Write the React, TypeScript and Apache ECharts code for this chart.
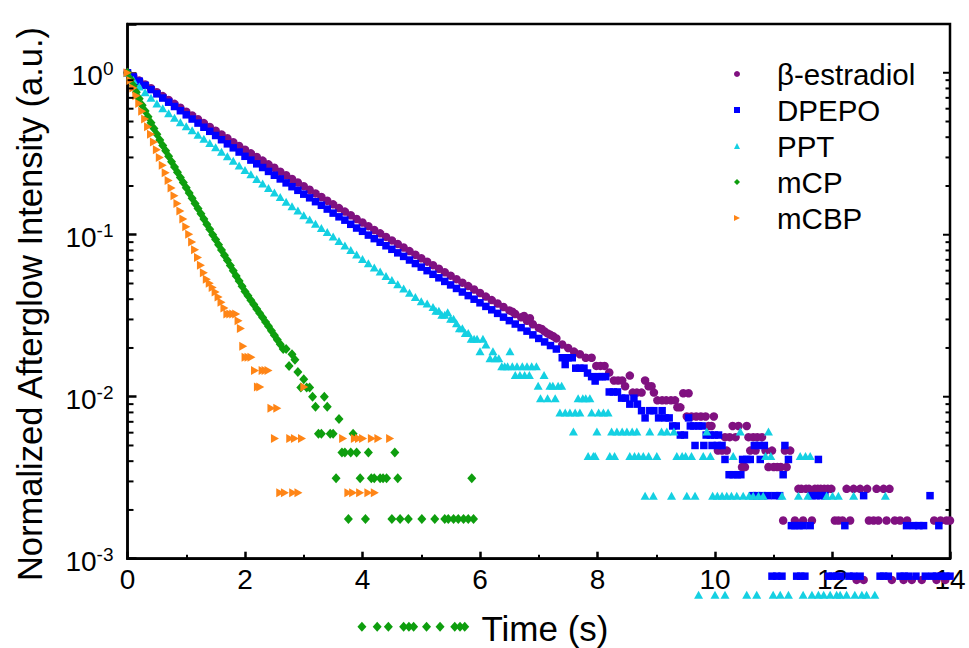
import React, { useEffect, useRef } from "react";
import * as echarts from "echarts";

const FONT = '"Liberation Sans", Arial, Helvetica, sans-serif';

const seriesNames = ["β-estradiol", "DPEPO", "PPT", "mCP", "mCBP"];
const seriesColors = ["#801180", "#0000ff", "#14d0e2", "#0e9e0e", "#ff8516"];

// β-estradiol: time (s), normalized intensity
const estradiol: [number, number][] = [
  [0, 1], [0.1, 0.946], [0.2, 0.895], [0.3, 0.847], [0.4, 0.802], [0.5, 0.759], [0.6, 0.718], [0.7, 0.679],
  [0.8, 0.643], [0.9, 0.608], [1, 0.575], [1.1, 0.545], [1.2, 0.516], [1.3, 0.489], [1.4, 0.463], [1.5, 0.439],
  [1.6, 0.416], [1.7, 0.394], [1.8, 0.373], [1.9, 0.353], [2, 0.335], [2.1, 0.318], [2.2, 0.302], [2.3, 0.287],
  [2.4, 0.272], [2.5, 0.259], [2.6, 0.245], [2.7, 0.233], [2.8, 0.221], [2.9, 0.21], [3, 0.1995], [3.1, 0.1895],
  [3.2, 0.18], [3.3, 0.171], [3.4, 0.162], [3.5, 0.154], [3.6, 0.146], [3.7, 0.139], [3.8, 0.132], [3.9, 0.125],
  [4, 0.119], [4.1, 0.113], [4.2, 0.107], [4.3, 0.102], [4.4, 0.097], [4.5, 0.0923], [4.6, 0.0877], [4.7, 0.0834],
  [4.8, 0.0793], [4.9, 0.0753], [5, 0.0716], [5.1, 0.0682], [5.2, 0.0649], [5.3, 0.0617], [5.4, 0.0587],
  [5.5, 0.0559], [5.6, 0.0532], [5.7, 0.0506], [5.8, 0.0482], [5.9, 0.0459], [6, 0.0437], [6.1, 0.0415],
  [6.2, 0.0395], [6.3, 0.0376], [6.4, 0.0358], [6.5, 0.0341], [6.55, 0.0335], [6.6, 0.0324], [6.7, 0.0309],
  [6.75, 0.0315], [6.8, 0.0294], [6.85, 0.0305], [6.9, 0.028], [7, 0.0266], [7.05, 0.0262], [7.1, 0.0253],
  [7.15, 0.0246], [7.2, 0.0241], [7.25, 0.0236], [7.3, 0.0229],
  [7.4, 0.021], [7.5, 0.02], [7.6, 0.019], [7.7, 0.0183], [7.8, 0.0174], [7.9, 0.0174], [7.98, 0.0155],
  [8.05, 0.0155], [8.12, 0.0155], [8.2, 0.0141], [8.28, 0.0126], [8.35, 0.0126], [8.42, 0.0126], [8.47, 0.0116],
  [8.55, 0.0135], [8.6, 0.0106], [8.67, 0.0106], [8.75, 0.0106], [8.81, 0.0126], [8.87, 0.0116], [8.92, 0.0116],
  [8.96, 0.0106], [9.02, 0.0095], [9.1, 0.0095], [9.17, 0.0095], [9.25, 0.0095], [9.32, 0.0095], [9.36, 0.0086],
  [9.41, 0.0086], [9.46, 0.0105], [9.52, 0.00755], [9.55, 0.0105], [9.6, 0.00755], [9.68, 0.00755], [9.76, 0.00755],
  [9.84, 0.00755], [9.89, 0.0066], [9.94, 0.0066], [9.98, 0.00755], [10.05, 0.00465], [10.12, 0.00465],
  [10.17, 0.00563], [10.2, 0.00465], [10.25, 0.00563], [10.3, 0.0066], [10.35, 0.00563], [10.4, 0.0066],
  [10.46, 0.00368], [10.51, 0.00368], [10.54, 0.0066], [10.57, 0.00563], [10.6, 0.00465], [10.65, 0.00563],
  [10.69, 0.00465], [10.72, 0.00563], [10.8, 0.00563], [10.86, 0.00465], [10.91, 0.00368], [10.97, 0.00465],
  [11, 0.00368], [11.06, 0.00368], [11.12, 0.00368], [11.16, 0.00172], [11.19, 0.00465], [11.22, 0.00368],
  [11.28, 0.00465], [11.36, 0.00172], [11.42, 0.0027], [11.47, 0.0027], [11.5, 0.00172], [11.55, 0.0027],
  [11.6, 0.0027], [11.65, 0.00172], [11.7, 0.0027], [11.75, 0.0027], [11.8, 0.0027], [11.86, 0.0027],
  [11.92, 0.0027], [11.98, 0.0027], [12.04, 0.00172], [12.1, 0.00172], [12.17, 0.00172], [12.24, 0.0027],
  [12.3, 0.00172], [12.36, 0.0027], [12.41, 0.00074], [12.47, 0.0027], [12.53, 0.00074], [12.59, 0.0027],
  [12.62, 0.00172], [12.7, 0.00172], [12.75, 0.0027], [12.78, 0.00172], [12.87, 0.0027], [12.92, 0.00172],
  [12.97, 0.0027], [13.01, 0.00074], [13.06, 0.00172], [13.15, 0.00172], [13.21, 0.00074], [13.27, 0.00172],
  [13.35, 0.00074], [13.52, 0.00074], [13.73, 0.00172], [13.77, 0.00074], [13.84, 0.00172], [13.92, 0.00074],
  [13.94, 0.00172], [14, 0.00172],
];

// DPEPO
const dpepo: [number, number][] = [
  [0, 1], [0.1, 0.942], [0.2, 0.887], [0.3, 0.836], [0.4, 0.787], [0.5, 0.741], [0.6, 0.698], [0.7, 0.658],
  [0.8, 0.619], [0.9, 0.583], [1, 0.55], [1.1, 0.518], [1.2, 0.489], [1.3, 0.461], [1.4, 0.435], [1.5, 0.41],
  [1.6, 0.386], [1.7, 0.364], [1.8, 0.344], [1.9, 0.324], [2, 0.305], [2.1, 0.289], [2.2, 0.274], [2.3, 0.26],
  [2.4, 0.246], [2.5, 0.233], [2.6, 0.221], [2.7, 0.209], [2.8, 0.198], [2.9, 0.188], [3, 0.178], [3.1, 0.169],
  [3.2, 0.16], [3.3, 0.152], [3.4, 0.144], [3.5, 0.136], [3.6, 0.129], [3.7, 0.123], [3.8, 0.116], [3.9, 0.11],
  [4, 0.105], [4.1, 0.0995], [4.2, 0.0946], [4.3, 0.0899], [4.4, 0.0855], [4.5, 0.0813], [4.6, 0.0773],
  [4.7, 0.0735], [4.8, 0.0698], [4.9, 0.0664], [5, 0.0631], [5.1, 0.06], [5.2, 0.057], [5.3, 0.0542],
  [5.4, 0.0515], [5.5, 0.049], [5.6, 0.0466], [5.7, 0.0443], [5.8, 0.0421], [5.9, 0.04], [6, 0.038],
  [6.1, 0.0361], [6.2, 0.0344], [6.3, 0.0327], [6.4, 0.031], [6.5, 0.0295], [6.6, 0.0281], [6.7, 0.0267],
  [6.8, 0.0254], [6.9, 0.0241], [7, 0.0229], [7.1, 0.0218], [7.2, 0.0207], [7.3, 0.0197],
  [7.4, 0.0174], [7.45, 0.0158], [7.5, 0.0174], [7.57, 0.0174], [7.63, 0.015], [7.7, 0.015], [7.77, 0.015],
  [7.83, 0.014], [7.9, 0.0133], [7.96, 0.0125], [8.02, 0.0133], [8.08, 0.0133], [8.14, 0.0133], [8.2, 0.0107],
  [8.27, 0.0107], [8.34, 0.0107], [8.41, 0.0098], [8.48, 0.0098], [8.55, 0.009], [8.62, 0.0098], [8.68, 0.009],
  [8.75, 0.0082], [8.81, 0.0074], [8.89, 0.0082], [8.96, 0.0082], [9.04, 0.0074], [9.1, 0.0082], [9.15, 0.0074],
  [9.22, 0.0074], [9.28, 0.0066], [9.34, 0.0066], [9.41, 0.0058], [9.48, 0.0058], [9.55, 0.0074], [9.58, 0.0066],
  [9.64, 0.0066], [9.66, 0.005], [9.72, 0.0066], [9.78, 0.0066], [9.81, 0.005], [9.85, 0.0058], [9.92, 0.0058],
  [9.95, 0.005], [9.99, 0.0058], [10.04, 0.005], [10.06, 0.0058], [10.12, 0.005], [10.17, 0.0041],
  [10.24, 0.0033], [10.31, 0.0033], [10.38, 0.0033], [10.44, 0.0033], [10.47, 0.0041], [10.54, 0.0041],
  [10.6, 0.0041], [10.64, 0.00245], [10.67, 0.005], [10.71, 0.00245], [10.74, 0.005], [10.77, 0.0041],
  [10.8, 0.00245], [10.84, 0.005], [10.9, 0.00245], [10.97, 0.00078], [11.02, 0.00245], [11.05, 0.00078],
  [11.1, 0.00245], [11.14, 0.00078], [11.16, 0.0033], [11.19, 0.005], [11.25, 0.0041], [11.3, 0.0016],
  [11.36, 0.0016], [11.39, 0.00078], [11.43, 0.0016], [11.46, 0.00078], [11.5, 0.0016], [11.53, 0.00078],
  [11.62, 0.0016], [11.65, 0.00245], [11.72, 0.00245], [11.76, 0.0041], [11.8, 0.00245], [11.87, 0.00245],
  [11.93, 0.00078], [12, 0.00078], [12.07, 0.00078], [12.14, 0.00078], [12.21, 0.0016], [12.28, 0.00078],
  [12.36, 0.00078], [12.47, 0.00078], [12.53, 0.00245], [12.81, 0.00078], [12.87, 0.00078], [12.95, 0.00078],
  [13.15, 0.00078], [13.22, 0.00078], [13.26, 0.0016], [13.29, 0.00078], [13.38, 0.0016], [13.42, 0.00078],
  [13.47, 0.0016], [13.55, 0.0016], [13.58, 0.00078], [13.66, 0.00245], [13.7, 0.00078], [13.77, 0.00078],
  [13.81, 0.0016], [13.86, 0.00078], [13.93, 0.00078], [14, 0.00078],
];

// PPT
const ppt: [number, number][] = [
  [0, 1], [0.1, 0.902], [0.2, 0.822], [0.3, 0.759], [0.4, 0.7], [0.5, 0.646], [0.6, 0.603], [0.7, 0.562],
  [0.8, 0.527], [0.9, 0.495], [1, 0.468], [1.1, 0.441], [1.2, 0.415], [1.3, 0.391], [1.4, 0.368], [1.5, 0.347],
  [1.6, 0.325], [1.7, 0.305], [1.8, 0.286], [1.9, 0.268], [2, 0.251], [2.1, 0.236], [2.2, 0.221], [2.3, 0.207],
  [2.4, 0.194], [2.5, 0.182], [2.6, 0.171], [2.7, 0.16], [2.8, 0.15], [2.9, 0.141], [3, 0.132], [3.1, 0.124],
  [3.2, 0.117], [3.3, 0.11], [3.4, 0.104], [3.5, 0.0977], [3.6, 0.0916], [3.7, 0.0859], [3.8, 0.0805],
  [3.9, 0.0755], [4, 0.0708], [4.1, 0.0667], [4.2, 0.0628], [4.3, 0.0592], [4.4, 0.0557], [4.5, 0.0525],
  [4.6, 0.0494], [4.7, 0.0466], [4.8, 0.0439], [4.9, 0.0413], [5, 0.0389],
  [5.1, 0.0376], [5.2, 0.0358], [5.25, 0.0339], [5.3, 0.0339], [5.35, 0.0321], [5.4, 0.0321], [5.45, 0.0332],
  [5.5, 0.0303], [5.55, 0.0303], [5.6, 0.0284], [5.65, 0.0265], [5.7, 0.0265], [5.75, 0.0247], [5.8, 0.0247],
  [5.85, 0.0228], [5.9, 0.0228], [5.95, 0.0228], [6, 0.0191], [6.05, 0.0228], [6.1, 0.021], [6.17, 0.0173],
  [6.22, 0.0191], [6.26, 0.0173], [6.32, 0.0173], [6.37, 0.0154], [6.42, 0.0154], [6.47, 0.0154], [6.51, 0.0191],
  [6.55, 0.0154], [6.6, 0.0136], [6.63, 0.0154], [6.68, 0.0136], [6.72, 0.0154], [6.76, 0.0136], [6.8, 0.0154],
  [6.84, 0.0136], [6.88, 0.0154], [6.96, 0.0154], [6.99, 0.0117], [7.03, 0.0098], [7.09, 0.0136], [7.15, 0.0098],
  [7.19, 0.0117], [7.24, 0.0117], [7.28, 0.0098], [7.33, 0.0117], [7.36, 0.008], [7.39, 0.0117], [7.45, 0.008],
  [7.53, 0.008], [7.59, 0.0061], [7.62, 0.008], [7.67, 0.0098], [7.7, 0.008], [7.75, 0.0098], [7.8, 0.0098],
  [7.84, 0.0043], [7.87, 0.0098], [7.9, 0.008], [7.93, 0.0043], [7.96, 0.0043], [7.99, 0.0061], [8.02, 0.008],
  [8.1, 0.008], [8.18, 0.008], [8.21, 0.0043], [8.24, 0.0061], [8.29, 0.0043], [8.33, 0.0061], [8.42, 0.0061],
  [8.5, 0.0061], [8.55, 0.0043], [8.59, 0.0061], [8.63, 0.0043], [8.67, 0.0061], [8.7, 0.0043], [8.78, 0.0043],
  [8.81, 0.00245], [8.87, 0.0043], [8.89, 0.0061], [8.95, 0.00245], [9.01, 0.0043], [9.09, 0.0061], [9.18, 0.0061],
  [9.26, 0.00245], [9.3, 0.0061], [9.35, 0.0043], [9.44, 0.0043], [9.5, 0.0043], [9.52, 0.00245], [9.6, 0.0043],
  [9.66, 0.00245], [9.72, 0.0006], [9.8, 0.0043], [9.86, 0.0061], [9.92, 0.0043], [9.96, 0.00245], [10, 0.0006],
  [10.04, 0.00245], [10.12, 0.00245], [10.17, 0.0006], [10.2, 0.00245], [10.28, 0.00245], [10.31, 0.0043],
  [10.37, 0.00245], [10.43, 0.0061], [10.48, 0.00245], [10.54, 0.0006], [10.58, 0.00245], [10.65, 0.00245],
  [10.71, 0.0006], [10.74, 0.00245], [10.82, 0.00245], [10.86, 0.0043], [10.91, 0.0061], [10.95, 0.0043],
  [10.99, 0.0006], [11.11, 0.0006], [11.14, 0.00245], [11.25, 0.0006], [11.42, 0.00245], [11.45, 0.0043],
  [11.5, 0.0006], [11.54, 0.0043], [11.58, 0.00245], [11.62, 0.0043], [11.65, 0.0006], [11.76, 0.0006],
  [11.85, 0.0006], [11.9, 0.00245], [11.96, 0.0006], [12, 0.00245], [12.07, 0.0006], [12.1, 0.00245],
  [12.13, 0.0006], [12.24, 0.0006], [12.36, 0.00245], [12.38, 0.0006], [12.5, 0.0006], [12.58, 0.0006],
  [12.72, 0.0006], [12.9, 0.00245],
];

// mCP
const mcp: [number, number][] = [
  [0, 1], [0.05, 0.912], [0.1, 0.832], [0.15, 0.759], [0.2, 0.692], [0.25, 0.631], [0.3, 0.581], [0.35, 0.535],
  [0.4, 0.492], [0.45, 0.453], [0.5, 0.417], [0.55, 0.385], [0.6, 0.356], [0.65, 0.33], [0.7, 0.305],
  [0.75, 0.282], [0.8, 0.262], [0.85, 0.243], [0.9, 0.226], [0.95, 0.21], [1, 0.195], [1.05, 0.181],
  [1.1, 0.168], [1.15, 0.156], [1.2, 0.145], [1.25, 0.135], [1.3, 0.125], [1.35, 0.116], [1.4, 0.108],
  [1.45, 0.1], [1.5, 0.0933], [1.55, 0.0867], [1.6, 0.0805], [1.65, 0.0748], [1.7, 0.0695], [1.75, 0.0646],
  [1.8, 0.06], [1.85, 0.0557], [1.9, 0.0518], [1.95, 0.0481], [2, 0.0447], [2.05, 0.042], [2.1, 0.0394],
  [2.15, 0.0371], [2.2, 0.0348], [2.25, 0.0327], [2.3, 0.0308], [2.35, 0.0289], [2.4, 0.0272], [2.45, 0.0255],
  [2.5, 0.024], [2.55, 0.0225], [2.6, 0.0211], [2.65, 0.0197], [2.7, 0.0197], [2.75, 0.0155], [2.8, 0.0183],
  [2.85, 0.0169], [2.9, 0.0142], [2.95, 0.0114], [3, 0.0128], [3.05, 0.0114], [3.1, 0.0114], [3.15, 0.01],
  [3.2, 0.00866], [3.25, 0.0059], [3.3, 0.0059], [3.35, 0.01], [3.4, 0.00866], [3.45, 0.0059], [3.5, 0.0059],
  [3.55, 0.00314], [3.6, 0.00728], [3.65, 0.00452], [3.7, 0.00452], [3.76, 0.00176], [3.8, 0.00452],
  [3.84, 0.0059], [3.9, 0.00452], [3.96, 0.00314], [3.99, 0.00038], [4.05, 0.00176], [4.1, 0.00452],
  [4.15, 0.00314], [4.2, 0.00314], [4.25, 0.00038], [4.3, 0.00314], [4.35, 0.00314], [4.41, 0.00314],
  [4.44, 0.00038], [4.5, 0.00176], [4.55, 0.00452], [4.6, 0.00314], [4.64, 0.00176], [4.7, 0.00038],
  [4.79, 0.00038], [4.78, 0.00176], [4.87, 0.00038], [5.01, 0.00176], [5.09, 0.00038], [5.23, 0.00176],
  [5.32, 0.00038], [5.4, 0.00176], [5.46, 0.00176], [5.55, 0.00176], [5.57, 0.00038], [5.63, 0.00176],
  [5.66, 0.00038], [5.72, 0.00176], [5.74, 0.00038], [5.8, 0.00176], [5.86, 0.00314], [5.89, 0.00176],
];

// mCBP
const mcbp: [number, number][] = [
  [0, 1], [0.05, 0.896], [0.1, 0.804], [0.15, 0.72], [0.2, 0.646], [0.25, 0.579], [0.3, 0.519], [0.35, 0.465],
  [0.4, 0.417], [0.45, 0.374], [0.5, 0.335], [0.55, 0.3], [0.6, 0.269], [0.65, 0.241], [0.7, 0.216],
  [0.75, 0.194], [0.8, 0.174], [0.85, 0.156], [0.9, 0.14], [0.95, 0.125], [1, 0.112], [1.05, 0.1006],
  [1.1, 0.0902], [1.15, 0.0808], [1.2, 0.0724], [1.25, 0.0649], [1.3, 0.0582], [1.35, 0.0532], [1.4, 0.0502],
  [1.45, 0.0472], [1.5, 0.0443], [1.55, 0.0413], [1.6, 0.0383], [1.65, 0.0353], [1.7, 0.0324], [1.75, 0.0324],
  [1.8, 0.0324], [1.85, 0.0324], [1.89, 0.0294], [1.93, 0.0264], [1.97, 0.0205], [2.01, 0.0175], [2.06, 0.0175],
  [2.11, 0.0175], [2.17, 0.0145], [2.22, 0.0115], [2.26, 0.0115], [2.3, 0.0145], [2.35, 0.0145], [2.4, 0.0145],
  [2.45, 0.0085], [2.51, 0.00553], [2.55, 0.0085], [2.6, 0.00255], [2.68, 0.00255], [2.77, 0.00553],
  [2.82, 0.00255], [2.85, 0.00553], [2.91, 0.00255], [2.97, 0.00553], [3.01, 0.0115], [3.67, 0.00553],
  [3.76, 0.00255], [3.84, 0.00255], [3.87, 0.00553], [3.94, 0.00553], [3.96, 0.00255], [4.01, 0.00553],
  [4.1, 0.00255], [4.16, 0.00553], [4.21, 0.00255], [4.27, 0.00553], [4.47, 0.00553],
];

const seriesData = [estradiol, dpepo, ppt, mcp, mcbp];
const seriesSymbols = ["circle", "rect", "triangle", "diamond", "path://M0,0L10,5L0,10Z"];
const seriesSymbolSizes: (number | number[])[] = [8.5, 7.5, [9, 8], [9, 10], [8, 9]];

// log-axis minor ticks (left & right) and right-side major ticks
const yMinorTicks = [
  0.002, 0.003, 0.004, 0.005, 0.006, 0.007, 0.008, 0.009,
  0.02, 0.03, 0.04, 0.05, 0.06, 0.07, 0.08, 0.09,
  0.2, 0.3, 0.4, 0.5, 0.6, 0.7, 0.8, 0.9,
];
const yMajorTicks = [0.01, 0.1, 1];

export default function App() {
  const ref = useRef<HTMLDivElement>(null);

  useEffect(() => {
    document.body.style.margin = "0";
    const chart = echarts.init(ref.current as HTMLDivElement, null, { renderer: "svg" });

    const tickData = [
      ...yMinorTicks.map((v) => [0, v, 0]),
      ...yMajorTicks.map((v) => [0, v, 1]),
    ];

    const scatterSeries = seriesNames.map((name, i) => ({
      name,
      type: "scatter",
      data: seriesData[i],
      symbol: seriesSymbols[i],
      symbolSize: seriesSymbolSizes[i],
      clip: false,
      itemStyle: { color: seriesColors[i], opacity: 1 },
      emphasis: { disabled: true },
      z: 3 + i,
    }));

    chart.setOption({
      animation: false,
      backgroundColor: "#ffffff",
      grid: {
        left: 127.5,
        right: 19,
        top: 24,
        bottom: 89.3,
        show: true,
        borderColor: "#000",
        borderWidth: 2.5,
        backgroundColor: "transparent",
      },
      legend: {
        orient: "vertical",
        left: 729,
        top: 54,
        itemWidth: 6,
        itemHeight: 6,
        itemGap: 6,
        data: seriesNames,
        selectedMode: false,
        textStyle: {
          fontSize: 29.5,
          fontFamily: FONT,
          color: "#000",
          lineHeight: 30,
          padding: [0, 0, 0, 32],
        },
      },
      xAxis: {
        type: "value",
        min: 0,
        max: 14,
        interval: 2,
        axisLine: { show: true, onZero: false, lineStyle: { color: "#000", width: 2.5 } },
        axisTick: { show: true, inside: true, length: 7, lineStyle: { color: "#000", width: 2.5 } },
        minorTick: { show: true, splitNumber: 2, length: 4, lineStyle: { color: "#000", width: 2 } },
        axisLabel: { fontSize: 28, fontFamily: FONT, color: "#000", margin: 7 },
        splitLine: { show: false },
      },
      yAxis: {
        type: "log",
        logBase: 10,
        min: 0.001,
        max: 2,
        splitNumber: 4,
        axisLine: { show: true, lineStyle: { color: "#000", width: 2.5 } },
        axisTick: { show: true, inside: true, length: 9, lineStyle: { color: "#000", width: 2.5 } },
        splitLine: { show: false },
        axisLabel: {
          margin: 14,
          padding: [5, 0, 0, 0],
          formatter: (v: number) => {
            const lg = Math.log10(v);
            const e = Math.round(lg);
            if (Math.abs(lg - e) > 1e-6) return "";
            return `{b|10}{s|${e}}`;
          },
          rich: {
            b: { fontSize: 28, fontFamily: FONT, color: "#000", lineHeight: 32 },
            s: { fontSize: 19, fontFamily: FONT, color: "#000", lineHeight: 19, verticalAlign: "top" },
          },
        },
      },
      graphic: [
        {
          type: "text",
          x: 29.5,
          y: 304,
          rotation: Math.PI / 2,
          style: {
            text: "Normalized Afterglow Intensity (a.u.)",
            fontSize: 34.5,
            fontFamily: FONT,
            fill: "#000",
            align: "center",
            verticalAlign: "middle",
          },
        },
        {
          type: "text",
          x: 545,
          y: 628.5,
          style: {
            text: "Time (s)",
            fontSize: 35,
            fontFamily: FONT,
            fill: "#000",
            align: "center",
            verticalAlign: "middle",
          },
        },
      ],
      series: [
        ...scatterSeries,
        {
          type: "custom",
          coordinateSystem: "cartesian2d",
          silent: true,
          clip: false,
          z: 10,
          data: tickData,
          encode: { x: 0, y: 1 },
          renderItem: (_params: any, api: any) => {
            const v = api.value(1);
            const kind = api.value(2);
            const l = api.coord([0, v]);
            const r = api.coord([14, v]);
            const stroke = { stroke: "#000", lineWidth: 2 };
            const children: any[] = [];
            if (kind === 0) {
              children.push({ type: "line", shape: { x1: l[0], y1: l[1], x2: l[0] + 6, y2: l[1] }, style: stroke });
            }
            children.push({
              type: "line",
              shape: { x1: r[0], y1: r[1], x2: r[0] - (kind === 0 ? 4.5 : 7), y2: r[1] },
              style: stroke,
            });
            return { type: "group", children };
          },
        },
      ],
    });

    return () => chart.dispose();
  }, []);

  return <div ref={ref} style={{ width: 969, height: 648 }} />;
}
